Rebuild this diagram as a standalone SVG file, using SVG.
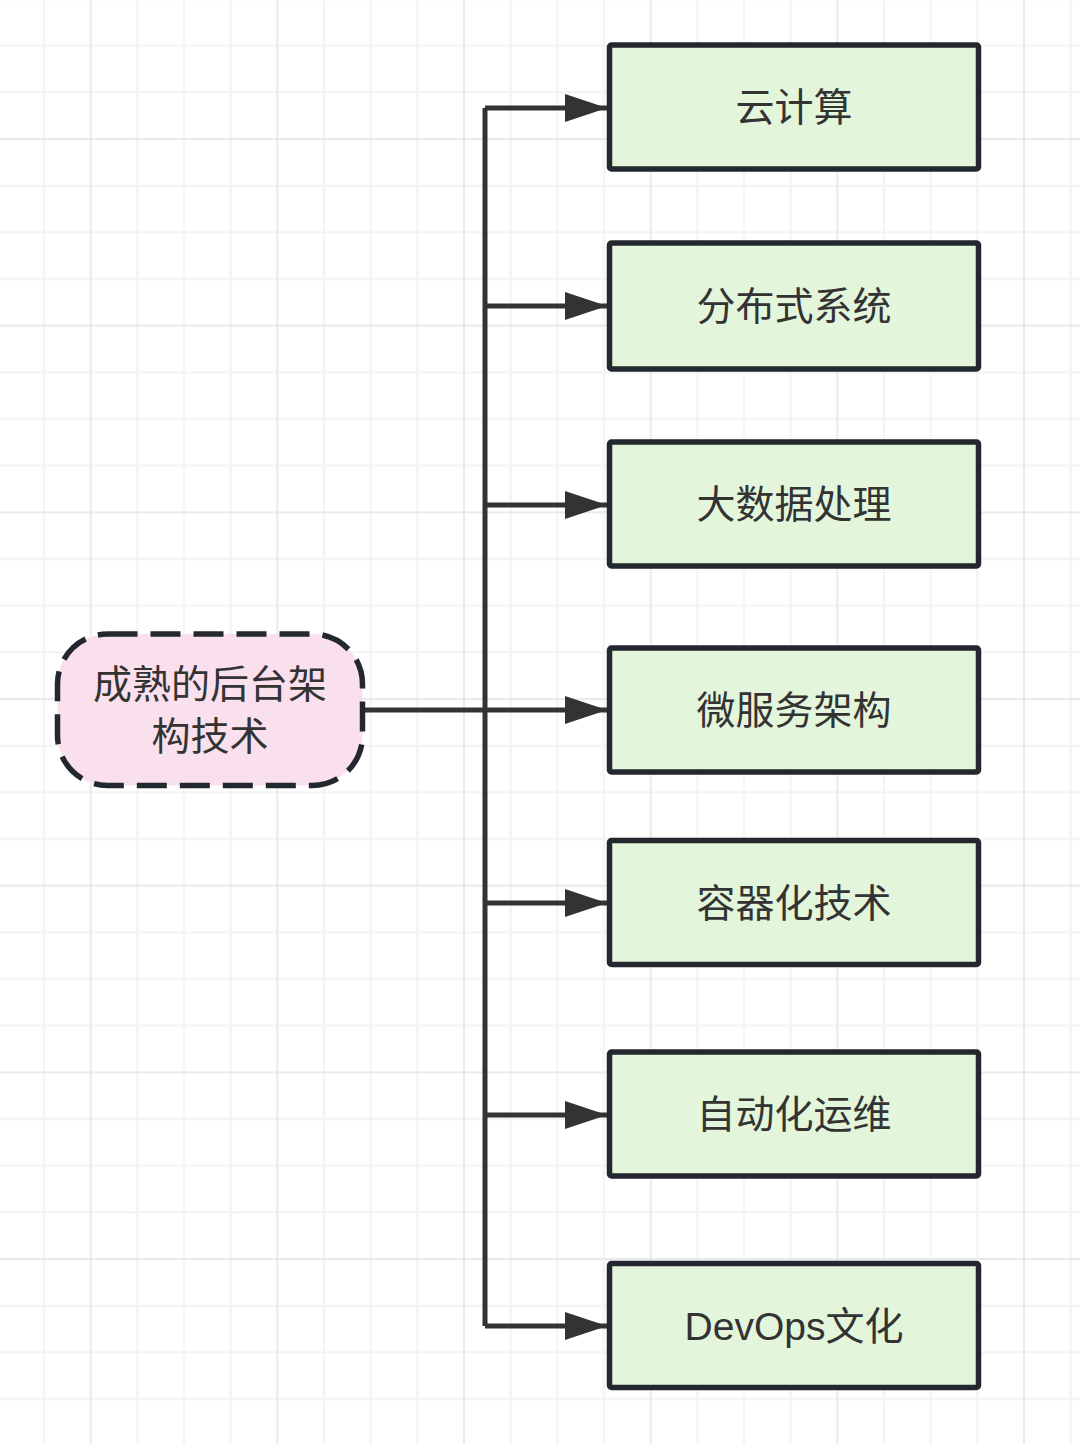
<svg xmlns="http://www.w3.org/2000/svg" width="1080" height="1444" viewBox="0 0 1080 1444">
<style>
.box{fill:#e3f5da;stroke:#23282e;stroke-width:5.5}
.root{fill:#fadfec;stroke:#23282e;stroke-width:5.5;stroke-dasharray:30 13}
.lbl{font-family:"Liberation Sans","Noto Sans CJK SC",sans-serif;font-size:39px;fill:#333333;text-anchor:middle;dominant-baseline:central}
.edge{fill:none;stroke:#333333;stroke-width:5;stroke-linejoin:round}
</style>
<defs>
<pattern id="grid" patternUnits="userSpaceOnUse" x="89.67" y="138" width="186.67" height="186.67">
<rect x="0" y="0" width="186.67" height="186.67" fill="#ffffff"/>
<g fill="#f3f3f3">
<rect x="46.67" y="0" width="2" height="186.67"/>
<rect x="93.33" y="0" width="2" height="186.67"/>
<rect x="140" y="0" width="2" height="186.67"/>
<rect x="0" y="46.67" width="186.67" height="2"/>
<rect x="0" y="93.33" width="186.67" height="2"/>
<rect x="0" y="140" width="186.67" height="2"/>
</g>
<g fill="#eaeaea">
<rect x="0" y="0" width="2" height="186.67"/>
<rect x="0" y="0" width="186.67" height="2"/>
</g>
</pattern>
<marker id="arr" markerUnits="userSpaceOnUse" markerWidth="44" markerHeight="30" refX="42" refY="14" orient="auto">
<path d="M0,0 L42,14 L0,28 Z" fill="#333333"/>
</marker>
</defs>
<rect x="0" y="0" width="1080" height="1444" fill="url(#grid)"/>
<g id="connectors">
<path class="edge" d="M362,710 L485,710"/>
<path class="edge" d="M485,1326 L485,108"/>
<path class="edge" marker-end="url(#arr)" d="M485,108 L607,108"/>
<path class="edge" marker-end="url(#arr)" d="M485,306 L607,306"/>
<path class="edge" marker-end="url(#arr)" d="M485,505 L607,505"/>
<path class="edge" marker-end="url(#arr)" d="M485,710 L607,710"/>
<path class="edge" marker-end="url(#arr)" d="M485,903 L607,903"/>
<path class="edge" marker-end="url(#arr)" d="M485,1115 L607,1115"/>
<path class="edge" marker-end="url(#arr)" d="M485,1326 L607,1326"/>
</g>
<g id="root">
<rect class="root" x="57.5" y="634" width="305" height="151.5" rx="50" ry="50"/>
<text class="lbl" x="210" y="684">成熟的后台架</text>
<text class="lbl" x="210" y="736">构技术</text>
</g>
<g id="n1"><rect class="box" x="609.5" y="45" width="369" height="124" rx="2"/><text class="lbl" x="794" y="107">云计算</text></g>
<g id="n2"><rect class="box" x="609.5" y="243" width="369" height="126" rx="2"/><text class="lbl" x="794" y="306">分布式系统</text></g>
<g id="n3"><rect class="box" x="609.5" y="442" width="369" height="124" rx="2"/><text class="lbl" x="794" y="504">大数据处理</text></g>
<g id="n4"><rect class="box" x="609.5" y="648" width="369" height="124" rx="2"/><text class="lbl" x="794" y="710">微服务架构</text></g>
<g id="n5"><rect class="box" x="609.5" y="840.5" width="369" height="124" rx="2"/><text class="lbl" x="794" y="903">容器化技术</text></g>
<g id="n6"><rect class="box" x="609.5" y="1052" width="369" height="124" rx="2"/><text class="lbl" x="794" y="1114">自动化运维</text></g>
<g id="n7"><rect class="box" x="609.5" y="1263.5" width="369" height="124" rx="2"/><text class="lbl" x="794" y="1326">DevOps文化</text></g>
</svg>
